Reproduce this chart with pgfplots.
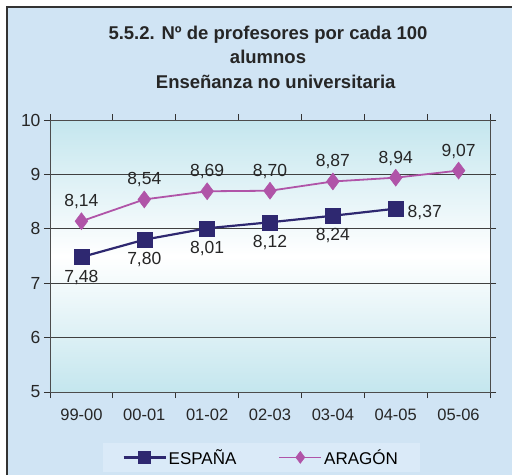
\documentclass[border=0pt]{standalone}
\usepackage{pgfplots}
\pgfplotsset{compat=1.18}
\usepackage{pgfplotstable}
\usepackage{fontspec}
\setmainfont{Liberation Sans}
\definecolor{bgblue}{RGB}{208,228,244}
\definecolor{legbg}{RGB}{218,234,248}
\definecolor{plottop}{RGB}{196,230,238}
\definecolor{navy}{RGB}{46,40,112}
\definecolor{orchid}{RGB}{176,84,168}

\pgfplotstableread{
x y dx dy
0 7.48 0 -20
1 7.80 0 -20
2 8.01 0 -20
3 8.12 0 -20
4 8.24 0 -20
5 8.37 29 -4
}\espana
\pgfplotstableread{
x y dx dy
0 8.14 0 19.5
1 8.54 0 19.5
2 8.69 0 19.5
3 8.70 0 19.5
4 8.87 0 19.5
5 8.94 0 19.5
6 9.07 0 19.5
}\aragon

\begin{document}
\begin{tikzpicture}[x=1pt,y=1pt]
\useasboundingbox (0,0) rectangle (512,475);
\fill[white] (0,0) rectangle (512,475);
\fill[bgblue] (7,0) rectangle (512,468);
\draw[line width=1.5pt, black!80] (7,0) -- (7,468) -- (512,468);
\node[font=\fontsize{18.5}{24.5}\selectfont\bfseries, align=center, text=black!85] at (268,418)
  {5.5.2. Nº de profesores por cada 100\\alumnos\\\ \ \ Enseñanza no universitaria};
\begin{axis}[
  /pgf/number format/assume math mode=true,
  at={(50pt,83pt)}, anchor=south west,
  scale only axis, width=440pt, height=272pt,
  xmin=-0.5, xmax=6.5, ymin=5, ymax=10,
  ytick={5,6,7,8,9,10},
  xtick={0,...,6},
  xticklabels={99-00,00-01,01-02,02-03,03-04,04-05,05-06},
  minor xtick={-0.5,0.5,...,6.5},
  major x tick style={draw=none},
  tick align=outside,
  major tick length=6pt, minor tick length=6pt,
  tick style={black!80, line width=0.9pt},
  axis line style={black!70, line width=0.9pt},
  ymajorgrids,
  grid style={black!75, line width=0.8pt},
  yticklabel style={font=\fontsize{17.5}{20}\selectfont, text=black!85},
  xticklabel style={font=\fontsize{16.5}{19}\selectfont, text=black!85, yshift=-7pt},
  axis background/.style={shade, top color=plottop, bottom color=plottop, middle color=white},
  point meta=y,
  visualization depends on={\thisrow{dx} \as \dx},
  visualization depends on={\thisrow{dy} \as \dy},
  nodes near coords={\pgfmathprintnumber[fixed,zerofill,precision=2,use comma,assume math mode=true]{\pgfplotspointmeta}},
  every node near coord/.append style={anchor=center, xshift=\dx pt, yshift=\dy pt, text=black!85, font=\fontsize{17.5}{20}\selectfont},
  legend columns=2,
  legend style={at={(0.48,-0.1875)}, anchor=north, draw=none, fill=legbg,
    font=\fontsize{17}{20}\selectfont, inner xsep=20pt, inner ysep=4pt,
    /tikz/every even column/.append style={column sep=40pt}},
  legend image code/.code={\draw[mark repeat=2, mark phase=2, mark size=6pt] plot coordinates {(0pt,0pt) (21pt,0pt) (42pt,0pt)};},
]
\addplot[navy, line width=2.2pt, mark=square*, mark size=7.5pt, mark options={solid, line width=0.5pt}] table[x=x,y=y] {\espana};
\addlegendentry{ESPAÑA}
\addplot[orchid, line width=1.8pt, mark=diamond*, mark size=8.5pt, mark options={solid, line width=0.5pt}] table[x=x,y=y] {\aragon};
\addlegendentry{ARAGÓN}
\end{axis}
\end{tikzpicture}
\end{document}
